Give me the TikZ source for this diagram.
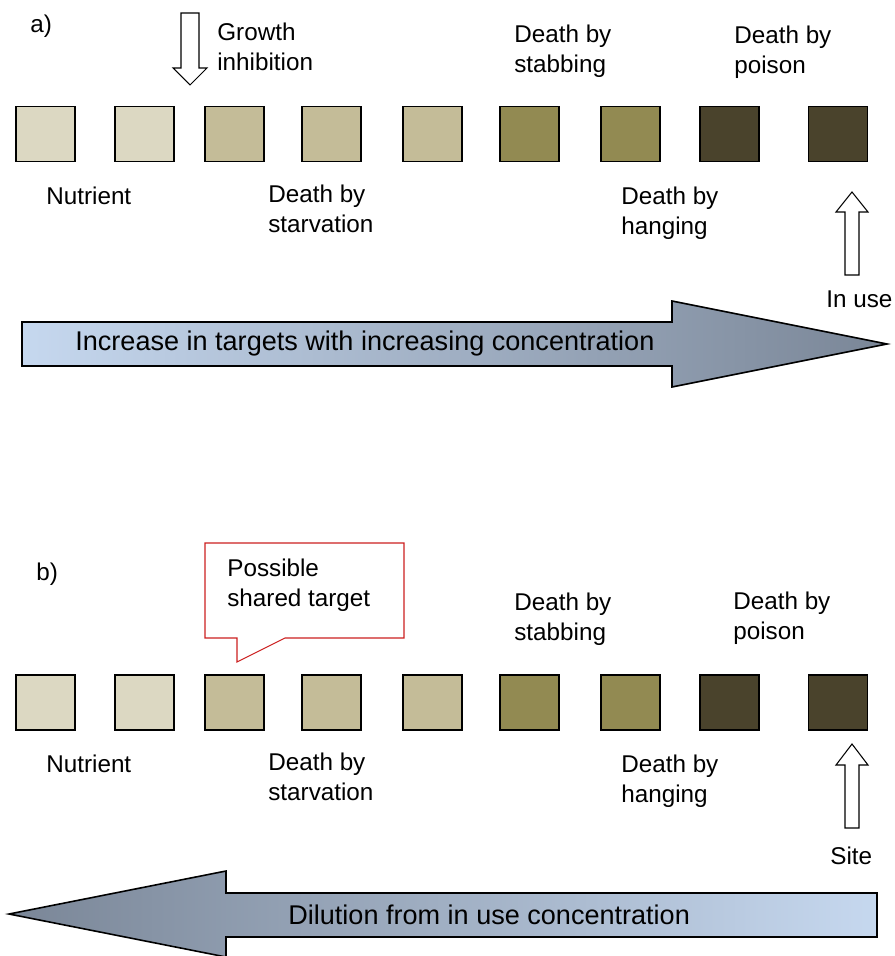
\documentclass[tikz,border=0pt]{standalone}
\usepackage{fontspec}
\setmainfont{Liberation Sans}

\definecolor{pale}{HTML}{DCD8C2}
\definecolor{sand}{HTML}{C4BC98}
\definecolor{olive}{HTML}{928A52}
\definecolor{umber}{HTML}{4A432C}
\definecolor{skyblue}{HTML}{C6D8EF}
\definecolor{slate}{HTML}{7A8697}
\definecolor{calloutred}{HTML}{CC1F1F}

\tikzset{
	target/.style={shape=rectangle,draw=black,line width=0.8pt,inner sep=0pt,minimum width=1.18cm,minimum height=1.1cm},
	lbl/.style={anchor=north west,inner sep=0pt,align=left,font=\fontsize{13.8}{17}\selectfont},
	bigtext/.style={anchor=west,inner sep=0pt,font=\fontsize{15.4}{18}\selectfont},
	hollow/.style={draw=black,fill=white,line width=0.6pt},
	band/.style={draw=black,line width=0.9pt}
}

\begin{document}
\begin{tikzpicture}[x=0.02cm,y=-0.02cm]
	    \useasboundingbox (0,0) rectangle (894,956);

	    \node[lbl] (a) at (30,15) {a)};
	    \node[target,fill=pale] (A1) at (45.5,134) {};
	    \node[target,fill=pale] (A2) at (144.5,134) {};
	    \node[target,fill=sand] (A3) at (234.5,134) {};
	    \node[target,fill=sand] (A4) at (331.5,134) {};
	    \node[target,fill=sand] (A5) at (432.5,134) {};
	    \node[target,fill=olive] (A6) at (529.5,134) {};
	    \node[target,fill=olive] (A7) at (630.5,134) {};
	    \node[target,fill=umber] (A8) at (729.5,134) {};
	    \node[target,fill=umber] (A9) at (838,134) {};

	    \node[lbl] (growth) at (217,23) {Growth\\inhibition};
	    \node[lbl] (stabA) at (514,25) {Death by\\stabbing};
	    \node[lbl] (poisonA) at (734,26) {Death by\\poison};
	    \node[lbl] (nutrientA) at (46,187) {Nutrient};
	    \node[lbl] (starveA) at (268,185) {Death by\\starvation};
	    \node[lbl] (hangA) at (621,187) {Death by\\hanging};
	    \node[lbl] (inuse) at (826,290) {In use};

	    \draw[hollow] (181,13) -- (199,13) -- (199,68) -- (207,68) -- (190,85) -- (173,68) -- (181,68) -- cycle;
	    \draw[hollow] (845,275) -- (859,275) -- (859,212) -- (868,212) -- (852,192) -- (836,212) -- (845,212) -- cycle;

	    \draw[band,left color=skyblue,right color=slate] (22,322) -- (672,322) -- (672,301) -- (887,344) -- (672,387) -- (672,366) -- (22,366) -- cycle;
	    \node[bigtext] (increase) at (75,344) {Increase in targets with increasing concentration};

	    \node[lbl] (b) at (36,563) {b)};
	    \node[target,fill=pale] (B1) at (45.5,702.5) {};
	    \node[target,fill=pale] (B2) at (144.5,702.5) {};
	    \node[target,fill=sand] (B3) at (234.5,702.5) {};
	    \node[target,fill=sand] (B4) at (331.5,702.5) {};
	    \node[target,fill=sand] (B5) at (432.5,702.5) {};
	    \node[target,fill=olive] (B6) at (529.5,702.5) {};
	    \node[target,fill=olive] (B7) at (630.5,702.5) {};
	    \node[target,fill=umber] (B8) at (729.5,702.5) {};
	    \node[target,fill=umber] (B9) at (838,702.5) {};

	    \draw[draw=calloutred,fill=white,line width=0.6pt] (205,543) -- (404,543) -- (404,638) -- (285,638) -- (237,662) -- (237,638) -- (205,638) -- cycle;
	    \node[lbl] (shared) at (227,559) {Possible\\shared target};
	    \node[lbl] (stabB) at (514,593) {Death by\\stabbing};
	    \node[lbl] (poisonB) at (733,592) {Death by\\poison};
	    \node[lbl] (nutrientB) at (46,755) {Nutrient};
	    \node[lbl] (starveB) at (268,753) {Death by\\starvation};
	    \node[lbl] (hangB) at (621,755) {Death by\\hanging};
	    \node[lbl] (site) at (830,847) {Site};

	    \draw[hollow] (845,828) -- (859,828) -- (859,765) -- (868,765) -- (852,744) -- (836,765) -- (845,765) -- cycle;

	    \draw[band,left color=slate,right color=skyblue] (877,893) -- (226,893) -- (226,871) -- (9,914) -- (226,957) -- (226,937) -- (877,937) -- cycle;
	    \node[bigtext] (dilution) at (288,915) {Dilution from in use concentration};
	\end{tikzpicture}
\end{document}
